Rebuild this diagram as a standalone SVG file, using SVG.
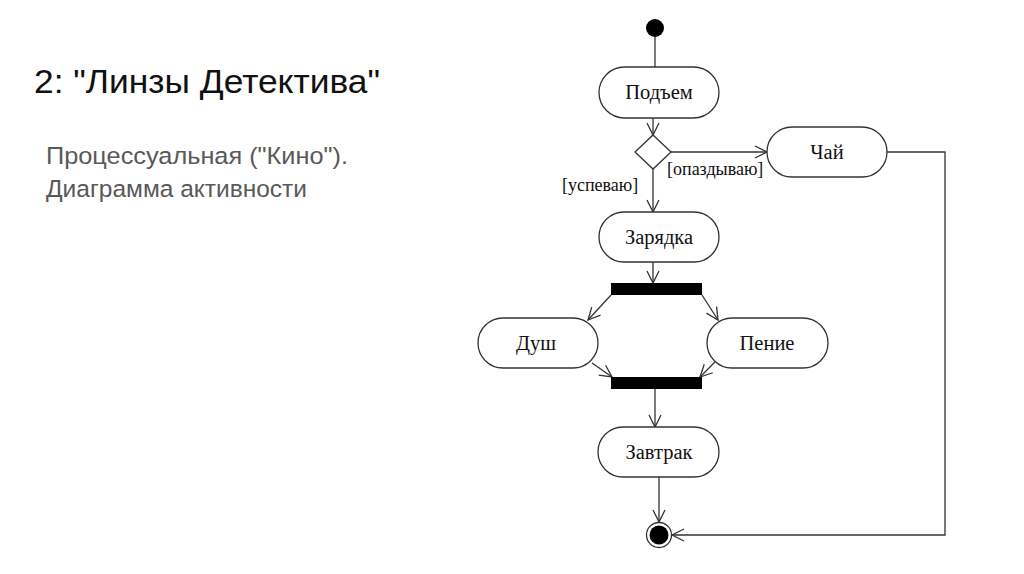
<svg xmlns="http://www.w3.org/2000/svg" width="1024" height="574" viewBox="0 0 1024 574">
<style>
.title{font-family:"Liberation Sans",Arial,sans-serif;font-size:34px;fill:#111}
.sub{font-family:"Liberation Sans",Arial,sans-serif;font-size:24.5px;fill:#595959}
.act{fill:#fff;stroke:#333;stroke-width:1.3}
.lbl{font-family:"Liberation Serif","Times New Roman",serif;font-size:20.5px;fill:#111;text-anchor:middle}
.grd{font-family:"Liberation Serif","Times New Roman",serif;font-size:18px;fill:#111}
.ln{fill:none;stroke:#333;stroke-width:1.3}
.arr{fill:none;stroke:#333;stroke-width:1.3;marker-end:url(#ah)}
.bar{fill:#000}
</style>
<defs>
<marker id="ah" markerUnits="userSpaceOnUse" markerWidth="16" markerHeight="16" refX="13" refY="7" orient="auto">
<path d="M1,1 L13,7 L1,13" fill="none" stroke="#333" stroke-width="1.3"/>
</marker>
</defs>
<rect width="1024" height="574" fill="#fff"/>
<g id="heading">
<text class="title" x="34" y="93" textLength="346" lengthAdjust="spacingAndGlyphs">2: "Линзы Детектива"</text>
<text class="sub" x="46" y="164" textLength="302" lengthAdjust="spacingAndGlyphs">Процессуальная ("Кино").</text>
<text class="sub" x="46" y="197" textLength="261" lengthAdjust="spacingAndGlyphs">Диаграмма активности</text>
</g>
<g id="connectors">
<line class="ln" x1="655" y1="37" x2="655" y2="67"/>
<line class="arr" x1="653" y1="118" x2="653" y2="135"/>
<line class="arr" x1="671" y1="152" x2="767" y2="152"/>
<line class="arr" x1="653" y1="169" x2="653" y2="212"/>
<line class="arr" x1="653" y1="262" x2="653" y2="283"/>
<line class="arr" x1="611" y1="295" x2="588" y2="320"/>
<line class="arr" x1="702" y1="295" x2="718" y2="320"/>
<line class="arr" x1="592" y1="363" x2="612" y2="377"/>
<line class="arr" x1="715" y1="362" x2="700" y2="377"/>
<line class="arr" x1="655" y1="389" x2="655" y2="427"/>
<line class="arr" x1="659" y1="477" x2="659" y2="522"/>
<polyline class="arr" points="887,152 945,152 945,535 672,535"/>
<text class="grd" x="667" y="175">[опаздываю]</text>
<text class="grd" x="562" y="191">[успеваю]</text>
</g>
<g id="start"><circle cx="655" cy="28" r="9" fill="#000"/></g>
<g id="podem"><rect class="act" x="599" y="67" width="120" height="51" rx="25.5"/><text class="lbl" x="659" y="99">Подъем</text></g>
<g id="decision"><polygon class="act" points="653,135 671,152 653,169 635,152"/></g>
<g id="chai"><rect class="act" x="767" y="127" width="120" height="50" rx="25"/><text class="lbl" x="827" y="159">Чай</text></g>
<g id="zaryadka"><rect class="act" x="599" y="212" width="120" height="50" rx="25"/><text class="lbl" x="659" y="244">Зарядка</text></g>
<g id="fork"><rect class="bar" x="611" y="283" width="91" height="12"/></g>
<g id="dush"><rect class="act" x="478" y="318" width="120" height="50" rx="25"/><text class="lbl" x="536" y="350">Душ</text></g>
<g id="penie"><rect class="act" x="707" y="318" width="121" height="50" rx="25"/><text class="lbl" x="767" y="350">Пение</text></g>
<g id="join"><rect class="bar" x="611" y="377" width="91" height="12"/></g>
<g id="zavtrak"><rect class="act" x="598" y="427" width="121" height="50" rx="25"/><text class="lbl" x="659" y="459">Завтрак</text></g>
<g id="end"><circle cx="659" cy="535" r="12.5" fill="#fff" stroke="#333" stroke-width="1.3"/><circle cx="659" cy="535" r="9.5" fill="#000"/></g>
</svg>
